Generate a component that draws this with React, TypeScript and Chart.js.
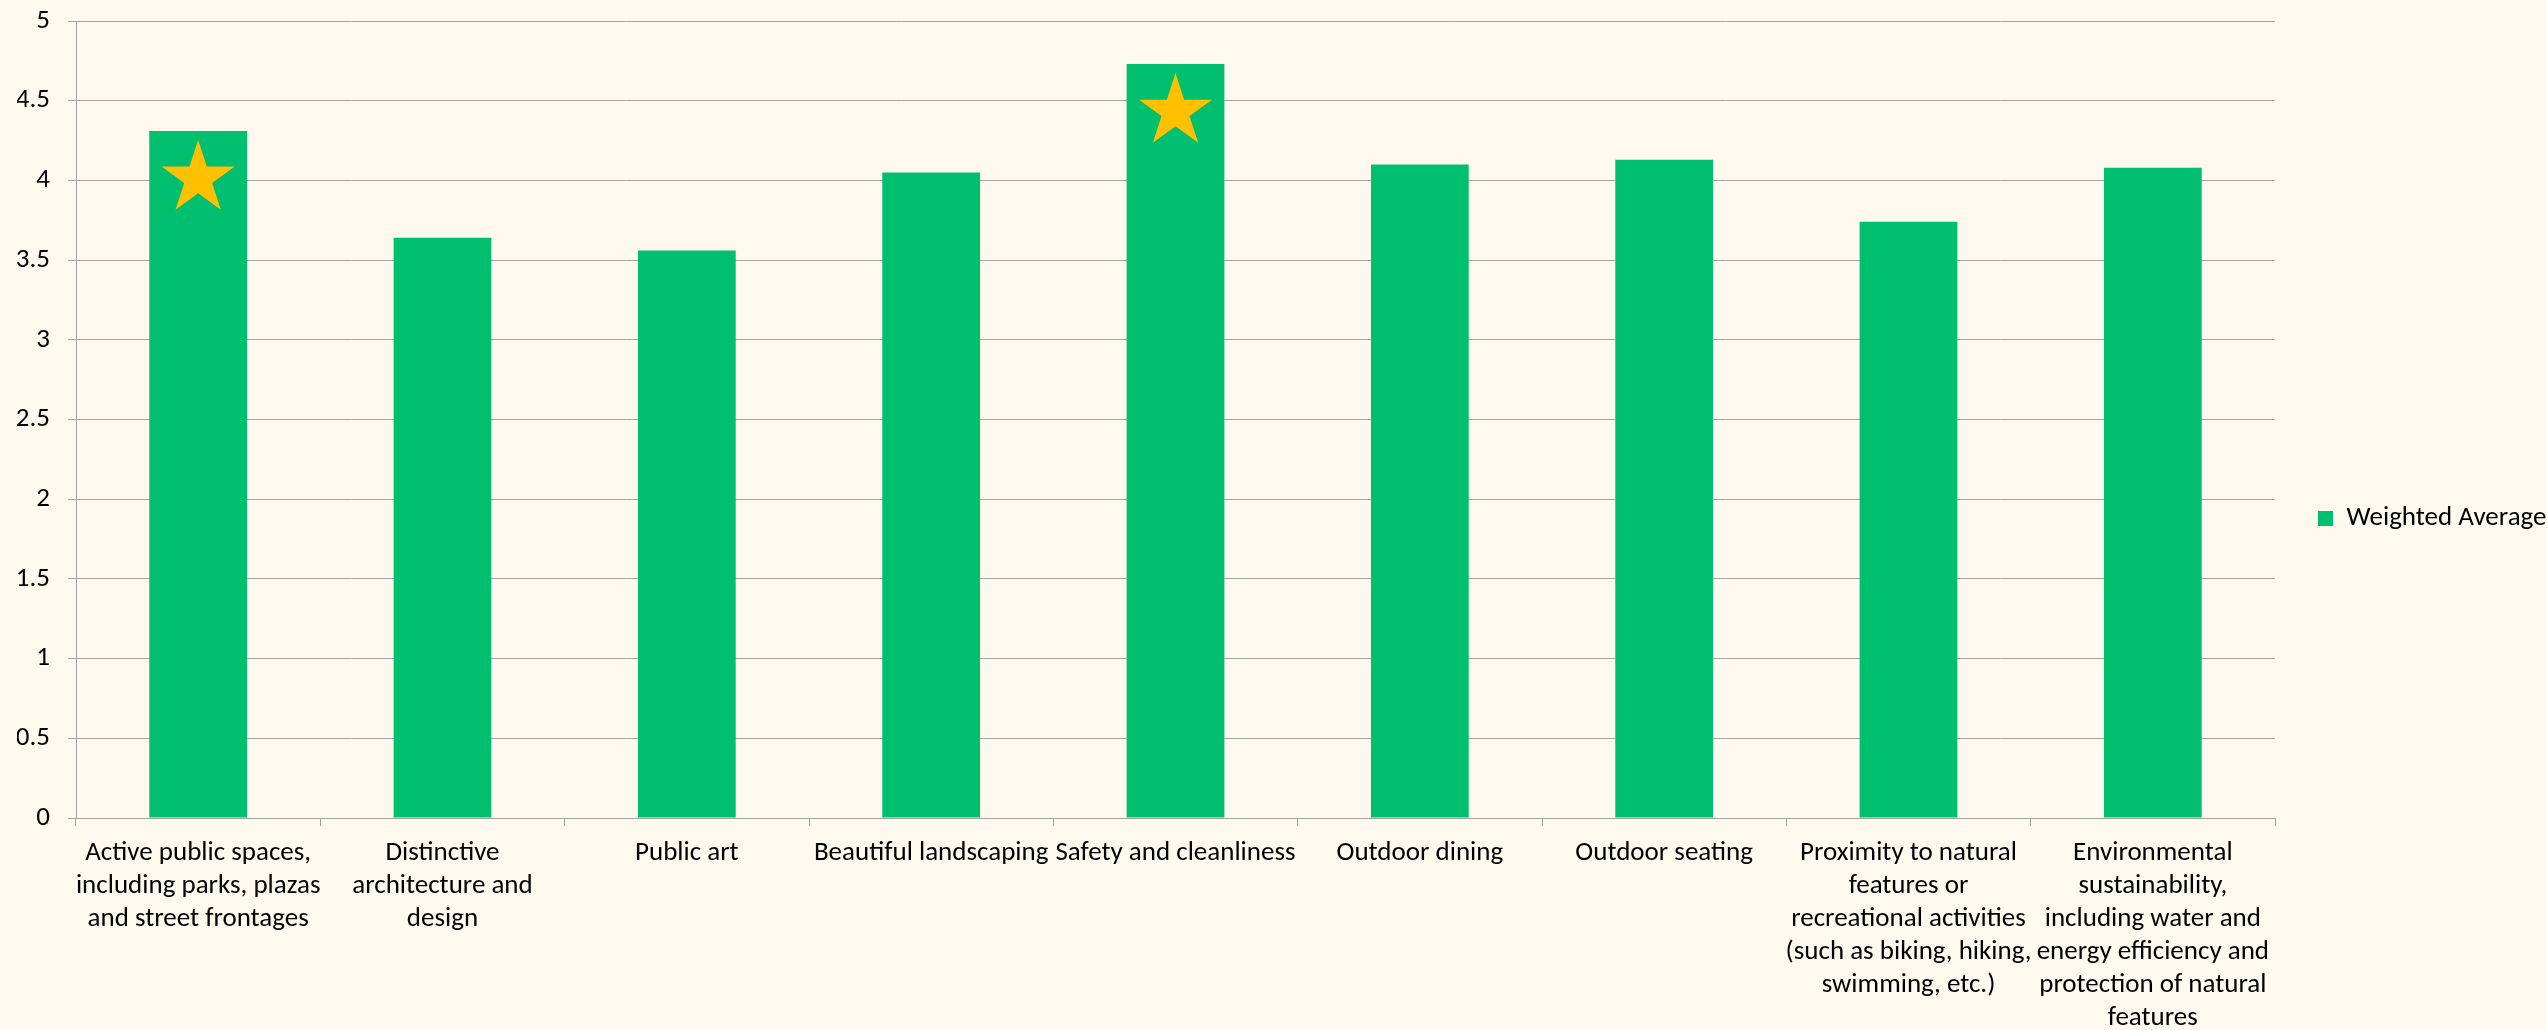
import React, { useEffect, useRef } from "react";
import { Chart, registerables } from "chart.js";

Chart.register(...registerables);

const categories: (string | string[])[] = [
  ["Active public spaces,", "including parks, plazas", "and street frontages"],
  ["Distinctive", "architecture and", "design"],
  "Public art",
  "Beautiful landscaping",
  "Safety and cleanliness",
  "Outdoor dining",
  "Outdoor seating",
  ["Proximity to natural", "features or", "recreational activities", "(such as biking, hiking,", "swimming, etc.)"],
  ["Environmental", "sustainability,", "including water and", "energy efficiency and", "protection of natural", "features"],
];

const weightedAverage: number[] = [4.31, 3.64, 3.56, 4.05, 4.73, 4.1, 4.13, 3.74, 4.08];

const seriesLabel = "Weighted Average";

const starredIndices: number[] = [0, 4];

const yMin = 0;
const yMax = 5;
const yStep = 0.5;

const BG = "#FDF9EE";
const BAR = "#00BF6F";
const STAR = "#FFC000";
const GRID = "#A3A3A3";
const FONT = "Carlito, Lato, 'Open Sans', sans-serif";
const FONT_SIZE = 27;

const starPlugin = {
  id: "stars",
  afterDatasetsDraw(chart: any) {
    const meta = chart.getDatasetMeta(0);
    const ctx = chart.ctx;
    const R = 38.5;
    const r = R * 0.382;
    starredIndices.forEach((i) => {
      const el = meta.data[i];
      if (!el) return;
      const cx = el.x;
      const cy = el.y + 47.5;
      ctx.save();
      ctx.beginPath();
      for (let k = 0; k < 10; k++) {
        const rad = k % 2 === 0 ? R : r;
        const a = -Math.PI / 2 + (k * Math.PI) / 5;
        const px = cx + rad * Math.cos(a);
        const py = cy + rad * Math.sin(a);
        if (k === 0) ctx.moveTo(px, py);
        else ctx.lineTo(px, py);
      }
      ctx.closePath();
      ctx.fillStyle = STAR;
      ctx.fill();
      ctx.restore();
    });
  },
};

// let the long category labels run to the bottom edge of the canvas instead of being clipped
const unclipLabelsPlugin = {
  id: "unclipLabels",
  afterLayout(chart: any) {
    const x = chart.scales.x;
    if (x) x.bottom = chart.height;
  },
};

export default function App() {
  const canvasRef = useRef<HTMLCanvasElement | null>(null);

  useEffect(() => {
    document.body.style.margin = "0";
    document.body.style.background = BG;
    const canvas = canvasRef.current;
    if (!canvas) return;
    const chart = new Chart(canvas, {
      type: "bar",
      data: {
        labels: categories,
        datasets: [
          {
            label: seriesLabel,
            data: weightedAverage,
            backgroundColor: BAR,
            borderWidth: 0,
            barPercentage: 0.4,
            categoryPercentage: 1,
          },
        ],
      },
      options: {
        animation: false,
        responsive: true,
        maintainAspectRatio: false,
        layout: { padding: { left: 17, top: 21, right: 0, bottom: 14 } },
        plugins: {
          tooltip: { enabled: false },
          legend: {
            position: "right",
            maxWidth: 272,
            labels: {
              boxWidth: 15,
              boxHeight: 15,
              padding: 43,
              color: "#000",
              font: { family: FONT, size: FONT_SIZE },
            },
          },
        },
        scales: {
          x: {
            afterFit: (scale: any) => {
              scale.height = 198;
            },
            grid: {
              drawOnChartArea: false,
              drawTicks: true,
              tickLength: 8,
              color: GRID,
              offset: true,
            },
            border: { color: GRID, width: 1 },
            ticks: {
              color: "#000",
              font: { family: FONT, size: FONT_SIZE, lineHeight: 1.22 },
              maxRotation: 0,
              minRotation: 0,
              autoSkip: false,
              padding: 11,
            },
          },
          y: {
            min: yMin,
            max: yMax,
            afterFit: (scale: any) => {
              scale.width = 59;
              scale.paddingTop = 0;
              scale.paddingBottom = 0;
            },
            grid: {
              color: GRID,
              tickLength: 8,
              drawTicks: true,
            },
            border: { color: GRID, width: 1 },
            ticks: {
              stepSize: yStep,
              color: "#000",
              padding: 18,
              font: { family: FONT, size: FONT_SIZE },
              callback: (v: any) => String(Number(v)),
            },
          },
        },
      },
      plugins: [starPlugin, unclipLabelsPlugin],
    } as any);
    return () => chart.destroy();
  }, []);

  return (
    <div
      style={{
        position: "fixed",
        left: 0,
        top: 0,
        width: "2547px",
        height: "1030px",
        background: BG,
      }}
    >
      <canvas ref={canvasRef} />
    </div>
  );
}
